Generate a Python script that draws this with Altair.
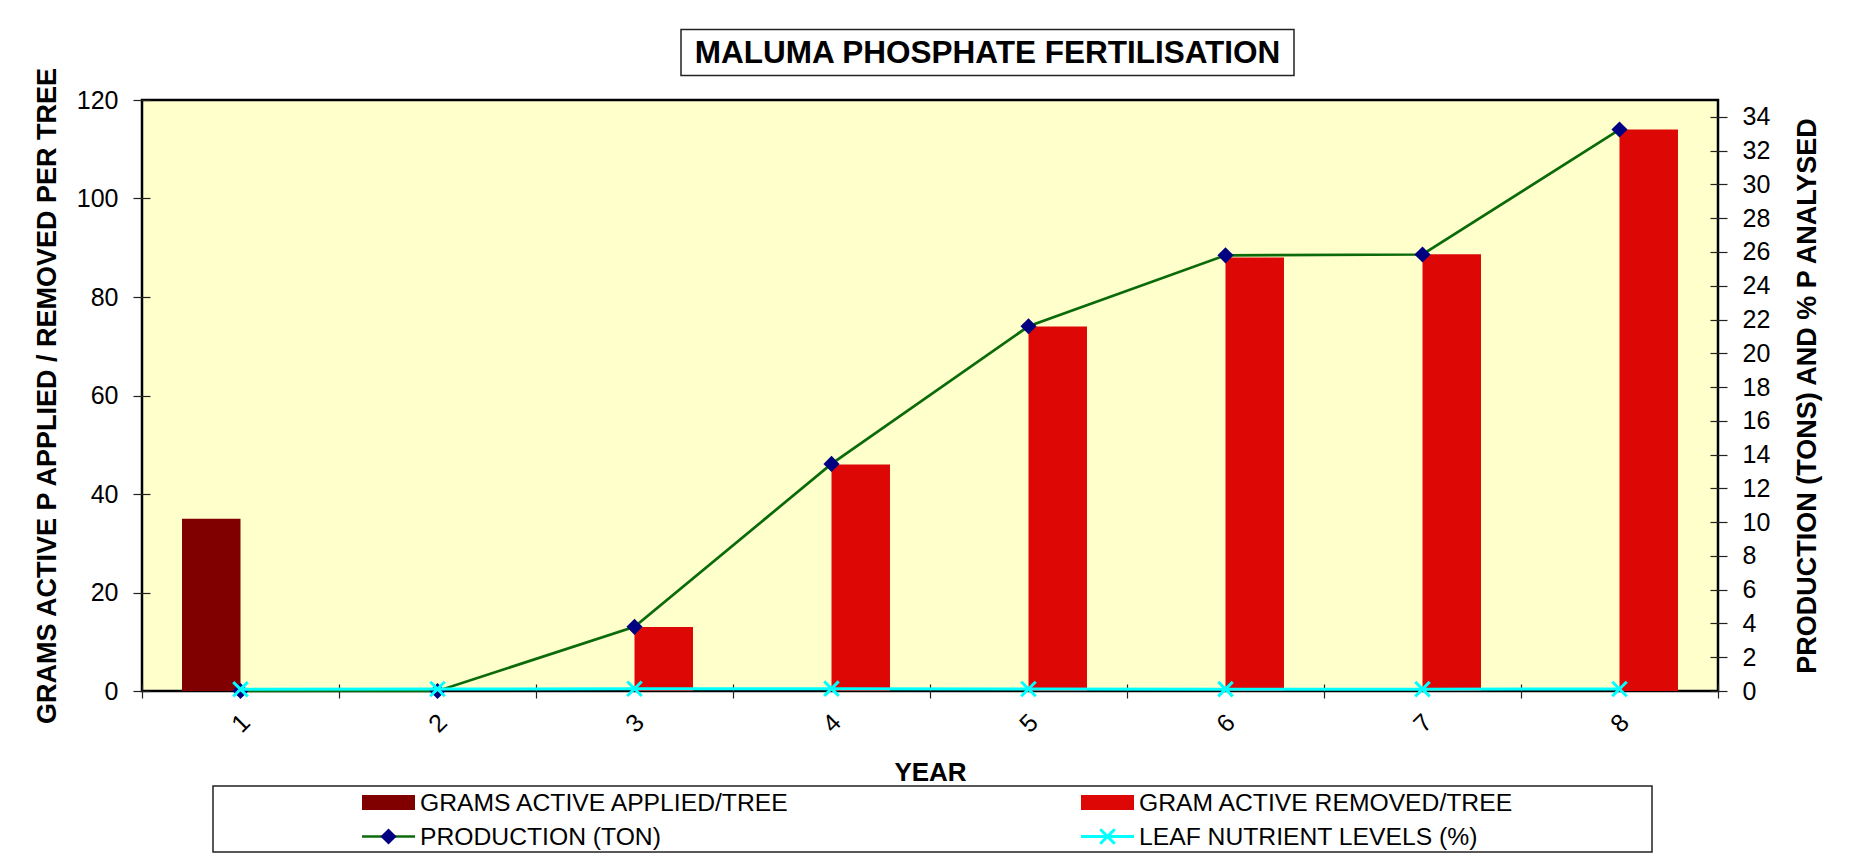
import altair as alt
import pandas as pd

# ---------------- data ----------------
YEARS = ["1", "2", "3", "4", "5", "6", "7", "8"]
APPLIED = [35, None, None, None, None, None, None, None]          # g active P applied / tree
REMOVED = [None, 0, 13, 46, 74, 88, 88.7, 114]                    # g active P removed / tree
PRODUCTION = [0, 0, 3.8, 13.45, 21.6, 25.8, 25.85, 33.25]         # tons
LEAF = [0.10, 0.12, 0.13, 0.14, 0.12, 0.11, 0.11, 0.12]           # % P analysed
SERIES = ["GRAMS ACTIVE APPLIED/TREE", "GRAM ACTIVE REMOVED/TREE",
          "PRODUCTION (TON)", "LEAF NUTRIENT LEVELS (%)"]
LEFT_TICKS = [0, 20, 40, 60, 80, 100, 120]
RIGHT_TICKS = list(range(0, 35, 2))
TITLE = "MALUMA PHOSPHATE FERTILISATION"
X_TITLE = "YEAR"
Y_LEFT_TITLE = "GRAMS ACTIVE P APPLIED / REMOVED PER TREE"
Y_RIGHT_TITLE = "PRODUCTION (TONS) AND % P ANALYSED"

# ---------------- styles ----------------
FONT = "Liberation Sans, Arial, sans-serif"
C_APPLIED = "#800000"
C_REMOVED = "#DD0806"
C_PROD = "#0B6B0B"
C_DIAMOND = "#000080"
C_LEAF = "#00FFFF"
X_SHAPE = "M-1,-1L1,1M-1,1L1,-1"

W, H = 1576, 591

bar_rows = []
for y, a, r in zip(YEARS, APPLIED, REMOVED):
    if a is not None:
        bar_rows.append({"year": y, "series": SERIES[0], "value": a})
    if r is not None:
        bar_rows.append({"year": y, "series": SERIES[1], "value": r})
bars_df = pd.DataFrame(bar_rows)

line_rows = []
for y, p, l in zip(YEARS, PRODUCTION, LEAF):
    line_rows.append({"year": y, "series": SERIES[2], "value": p})
    line_rows.append({"year": y, "series": SERIES[3], "value": l})
lines_df = pd.DataFrame(line_rows)

x_enc = alt.X(
    "year:N", sort=YEARS,
    scale=alt.Scale(domain=YEARS, paddingInner=0, paddingOuter=0),
    axis=alt.Axis(
        title=X_TITLE, offset=-7, tickSize=14, tickBand="extent", domain=False,
        grid=False, labelAngle=-45, labelAlign="center", labelBaseline="middle",
        labelPadding=25, labelFontSize=25, labelFont=FONT, labelColor="black",
        tickColor="#222", tickWidth=1.2,
        titleFont=FONT, titleFontSize=26, titleFontWeight="bold", titleColor="black",
        titleY=88, titleBaseline="middle",
    ),
)

y_left = alt.Y(
    "value:Q",
    scale=alt.Scale(domain=[0, 120], nice=False),
    axis=alt.Axis(
        title=Y_LEFT_TITLE, values=LEFT_TICKS, offset=-8, tickSize=17, domain=False,
        grid=False, labelPadding=15, labelFontSize=25, labelFont=FONT,
        labelColor="black", tickColor="#222", tickWidth=1.2,
        titleFont=FONT, titleFontSize=27, titleFontWeight="bold", titleColor="black",
        titleAngle=270, titleX=-103, titleY=H / 2, titleAlign="center",
        titleBaseline="middle",
    ),
)

y_right = alt.Y(
    "value:Q",
    scale=alt.Scale(domain=[0, 35], nice=False),
    axis=alt.Axis(
        orient="right", title=Y_RIGHT_TITLE, values=RIGHT_TICKS, offset=-8,
        tickSize=17, domain=False, grid=False, labelPadding=15, labelFontSize=25,
        labelFont=FONT, labelColor="black", tickColor="#222", tickWidth=1.2,
        titleFont=FONT, titleFontSize=27, titleFontWeight="bold", titleColor="black",
        titleAngle=270, titleX=97, titleY=H / 2, titleAlign="center",
        titleBaseline="middle",
    ),
)

bars = alt.Chart(bars_df).mark_bar(opacity=1).encode(
    x=x_enc,
    xOffset=alt.XOffset("series:N", scale=alt.Scale(domain=SERIES[:2], paddingInner=0,
                                                     paddingOuter=0.684)),
    y=y_left,
    color=alt.Color("series:N", scale=alt.Scale(domain=SERIES[:2],
                                                range=[C_APPLIED, C_REMOVED]),
                    legend=None),
)

base = alt.Chart(lines_df)
prod_line = base.transform_filter(alt.datum.series == SERIES[2]).mark_line(
    color=C_PROD, strokeWidth=2.7).encode(x=x_enc, y=y_right)
prod_pts = base.transform_filter(alt.datum.series == SERIES[2]).mark_point(
    shape="diamond", filled=True, color=C_DIAMOND, size=260, opacity=1).encode(
    x=x_enc, y=y_right)
leaf_line = base.transform_filter(alt.datum.series == SERIES[3]).mark_line(
    color=C_LEAF, strokeWidth=3).encode(x=x_enc, y=y_right)
leaf_pts = base.transform_filter(alt.datum.series == SERIES[3]).mark_point(
    shape=X_SHAPE, filled=False, color=C_LEAF, strokeWidth=3, size=210, opacity=1).encode(
    x=x_enc, y=y_right)

lines = alt.layer(prod_line, prod_pts, leaf_line, leaf_pts)

one = pd.DataFrame({"k": [0]})

# ---------------- title box ----------------
title_box = alt.Chart(one).mark_rect(fill="white", stroke="#222", strokeWidth=1.5).encode(
    x=alt.value(539), x2=alt.value(1152), y=alt.value(-70.5), y2=alt.value(-24.5))
title_txt = alt.Chart(one).mark_text(
    text=TITLE, font=FONT, fontSize=31.5, fontWeight="bold", color="black",
    align="center", baseline="middle").encode(x=alt.value(845.5), y=alt.value(-46.5))

# ---------------- legend ----------------
leg_box = alt.Chart(one).mark_rect(fill="white", stroke="#222", strokeWidth=1.5).encode(
    x=alt.value(71), x2=alt.value(1510), y=alt.value(686), y2=alt.value(752))

COL_SYM = [220, 939]
COL_TXT = [278, 997]
ROW_Y = [702.5, 736.5]
SYM_W = 53

legend_layers = [leg_box]
for i, lab in enumerate(SERIES):
    c, r = i % 2, i // 2
    sx, ty = COL_SYM[c], ROW_Y[r]
    if i < 2:
        legend_layers.append(alt.Chart(one).mark_rect(
            fill=[C_APPLIED, C_REMOVED][i]).encode(
            x=alt.value(sx), x2=alt.value(sx + SYM_W),
            y=alt.value(ty - 7.5), y2=alt.value(ty + 7.5)))
    else:
        lc = C_PROD if i == 2 else C_LEAF
        legend_layers.append(alt.Chart(one).mark_rule(
            color=lc, strokeWidth=2.5 if i == 2 else 3).encode(
            x=alt.value(sx), x2=alt.value(sx + SYM_W), y=alt.value(ty)))
        if i == 2:
            legend_layers.append(alt.Chart(one).mark_point(
                shape="diamond", filled=True, color=C_DIAMOND, size=260, opacity=1).encode(
                x=alt.value(sx + SYM_W / 2), y=alt.value(ty)))
        else:
            legend_layers.append(alt.Chart(one).mark_point(
                shape=X_SHAPE, filled=False, color=C_LEAF, strokeWidth=3, size=210,
                opacity=1).encode(x=alt.value(sx + SYM_W / 2), y=alt.value(ty)))
    legend_layers.append(alt.Chart(one).mark_text(
        text=lab, font=FONT, fontSize=24.7, color="black", align="left",
        baseline="middle").encode(x=alt.value(COL_TXT[c]), y=alt.value(ty + 1)))

chart = alt.layer(
    bars, lines, title_box, title_txt, *legend_layers
).resolve_scale(
    y="independent"
).properties(
    width=W, height=H,
    autosize=alt.AutoSizeParams(type="none"),
    padding={"left": 134, "top": 92, "right": 110, "bottom": 165},
    background="white",
).configure_view(
    stroke="black", strokeWidth=2.5, fill="#FFFFCC"
)

chart.save("out.html", embed_options={"renderer": "svg", "actions": False})
